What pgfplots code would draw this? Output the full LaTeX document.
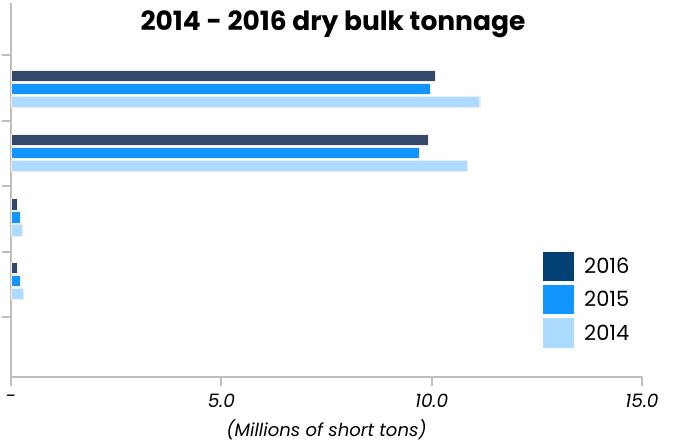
\documentclass[border=0pt]{standalone}
\usepackage{pgfplots}
\pgfplotsset{compat=1.18}
\usepackage{fontspec}
\setmainfont{Poppins}
\definecolor{c16}{HTML}{34496A}
\definecolor{c16leg}{HTML}{023F73}
\definecolor{c15}{HTML}{1196FF}
\definecolor{c14}{HTML}{ADDBFF}
\definecolor{axisgray}{HTML}{BFBFBF}

\begin{document}
\begin{tikzpicture}
\useasboundingbox (0,0) rectangle (675pt,445pt);
\begin{axis}[
    at={(11pt,68pt)}, anchor=south west,
    scale only axis, width=631pt, height=374pt,
    xbar, bar width=11.5pt,
    xmin=0, xmax=15, ymin=0, ymax=374,
    xtick={0,5,10,15}, xticklabels={-,5.0,10.0,15.0},
    ytick={60,125,191,256,322}, yticklabels={},
    axis x line*=bottom, axis y line*=left,
    axis line style={axisgray, line width=2pt},
    tick style={axisgray, line width=2pt},
    tick align=outside, major tick length=9pt,
    x tick label style={font=\itshape\fontsize{18.5}{18.5}\selectfont, yshift=-5pt},
    xlabel={(Millions of short tons)},
    xlabel style={font=\itshape\fontsize{18}{18}\selectfont, yshift=-5pt},
    legend style={draw=none, fill=none, at={(0.838,0.34)}, anchor=north west,
        font=\fontsize{21}{21}\selectfont, row sep=4pt,
        nodes={inner xsep=10pt}},
    legend cell align=left,
]
% 2016
\addplot[fill=c16, draw=black!7, line width=1.2pt, bar shift=13pt,
    legend image code/.code={\fill[c16leg] (0pt,-14pt) rectangle (30pt,14pt);}]
    coordinates {(10.1,288) (9.93,224) (0.15,159.5) (0.15,96)};
% 2015
\addplot[fill=c15, draw=black!7, line width=1.2pt, bar shift=0pt,
    legend image code/.code={\fill[c15] (0pt,-14pt) rectangle (30pt,14pt);}]
    coordinates {(9.98,288) (9.72,224) (0.23,159.5) (0.23,96)};
% 2014
\addplot[fill=c14, draw=black!7, line width=1.2pt, bar shift=-13pt,
    legend image code/.code={\fill[c14] (0pt,-14pt) rectangle (30pt,14pt);}]
    coordinates {(11.15,288) (10.86,224) (0.28,159.5) (0.29,96)};
\legend{2016,2015,2014}
\end{axis}
\node[font=\bfseries\fontsize{26.5}{26.5}\selectfont] at (333pt,421pt) {2014 - 2016 dry bulk tonnage};
\end{tikzpicture}
\end{document}
